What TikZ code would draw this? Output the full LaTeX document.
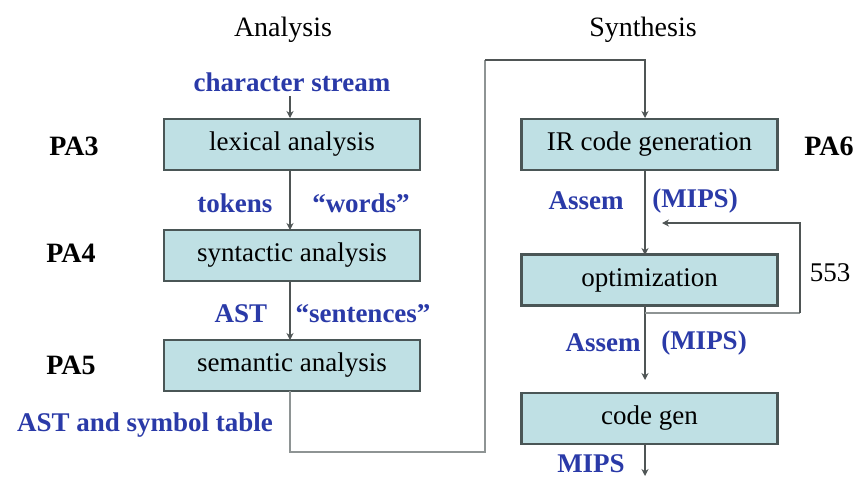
\documentclass[tikz,border=0pt]{standalone}
\usepackage{fontspec}
\setmainfont{Liberation Serif}
\usetikzlibrary{arrows.meta}
\definecolor{boxfill}{HTML}{BFE0E4}
\definecolor{boxline}{HTML}{4A5656}
\definecolor{lblue}{HTML}{2A3AA8}
\definecolor{conn}{HTML}{4F5555}
\definecolor{lconn}{HTML}{8E9494}
\tikzset{
  stage/.style={draw=boxline, line width=2.6pt, fill=boxfill, minimum width=256pt, minimum height=51pt, inner sep=0pt, font=\fontsize{27}{29}\selectfont},
  lbl/.style={text=lblue, font=\bfseries\fontsize{27}{29}\selectfont, inner sep=0pt},
  pa/.style={font=\bfseries\fontsize{28}{30}\selectfont, inner sep=0pt},
  head/.style={font=\fontsize{28}{30}\selectfont, inner sep=0pt},
  flow/.style={draw=conn, line width=2pt, -{Stealth[length=7pt,width=7pt]}},
  longflow/.style={draw=lconn, line width=2.6pt},
}
\begin{document}
\begin{tikzpicture}[x=1pt,y=-1pt]
\useasboundingbox[fill=white] (0,0) rectangle (856,480);
% headings
\node[head] (hA) at (283,30) {Analysis};
\node[head] (hS) at (643,30) {Synthesis};
% left column
\node[stage] (lex) at (292,144.5) {lexical analysis};
\node[stage] (syn) at (292,255.5) {syntactic analysis};
\node[stage] (sem) at (292,365.5) {semantic analysis};
% right column
\node[stage] (ir) at (649.5,144.5) {IR code generation};
\node[stage] (opt) at (649.5,280) {optimization};
\node[stage] (cg) at (649.5,418.5) {code gen};
% PA labels
\node[pa] (pa3) at (74,146) {PA3};
\node[pa] (pa4) at (71,253) {PA4};
\node[pa] (pa5) at (71,365) {PA5};
\node[pa] (pa6) at (829,146) {PA6};
\node[font=\fontsize{27}{29}\selectfont, inner sep=0pt] (n553) at (830,273) {553};
% blue labels
\node[lbl] (cs) at (292,82) {character stream};
\node[lbl] (tok) at (235,203) {tokens};
\node[lbl] (wds) at (361,203) {``words''};
\node[lbl] (ast) at (241,314) {AST};
\node[lbl] (sent) at (363,314) {``sentences''};
\node[lbl] (astst) at (145,425) {AST and symbol table};
\node[lbl] (as1) at (586,201) {Assem};
\node[lbl] (mp1) at (695,201) {(MIPS)};
\node[lbl] (as2) at (603,343) {Assem};
\node[lbl] (mp2) at (704,343) {(MIPS)};
\node[lbl] (mips) at (591,464) {MIPS};
% coordinates
\coordinate (csb) at (290,96);
\coordinate (c1) at (290,452);
\coordinate (c2) at (485,452);
\coordinate (c3) at (485,60);
\coordinate (c4) at (645,60);
\coordinate (fb0) at (645,313);
\coordinate (fb1) at (800,313);
\coordinate (fb2) at (800,223);
\coordinate (fb3) at (662,223);
\coordinate (out) at (645,476);
% connectors
\draw[flow] (csb) -- (290,118);
\draw[flow] (290,171) -- (290,230);
\draw[flow] (290,281) -- (290,340);
\draw[longflow] (290,391) -- (c1) -- (c2) -- (c3);
\draw[flow] (c3) -- (c4) -- (645,118);
\draw[flow] (645,171) -- (645,255);
\draw[flow] (645,305) -- (645,380);
\draw[draw=lconn, line width=2.4pt] (fb0) -- (fb1);
\draw[flow] (fb1) -- (fb2) -- (fb3);
\draw[flow] (645,444) -- (out);
\end{tikzpicture}
\end{document}
